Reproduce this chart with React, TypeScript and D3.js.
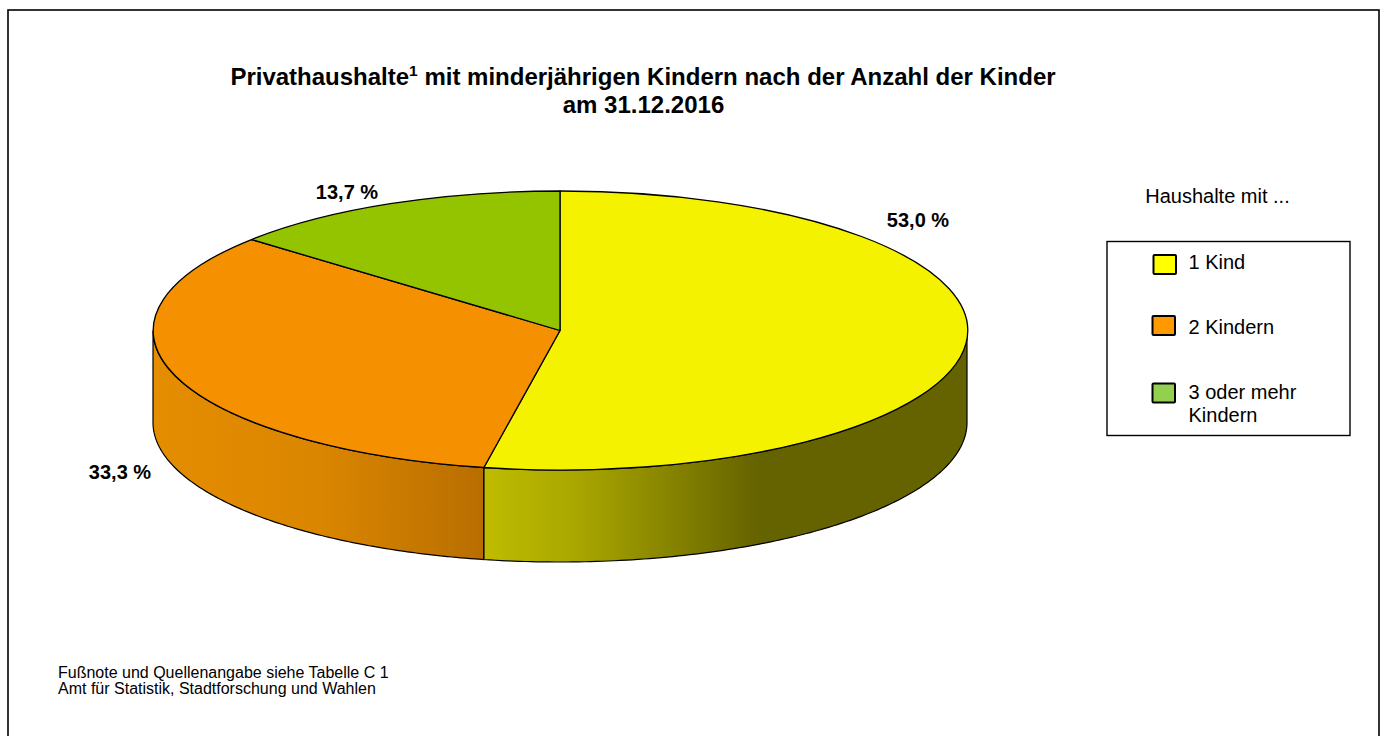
import React from "react";
import * as d3 from "d3";

const titleLine1 = "Privathaushalte";
const titleSup = "1";
const titleLine1b = " mit minderjährigen Kindern nach der Anzahl der Kinder";
const titleLine2 = "am 31.12.2016";
const categories = ["1 Kind", "2 Kindern", "3 oder mehr Kindern"];
const values = [53.0, 33.3, 13.7];
const valueLabels = ["53,0 %", "33,3 %", "13,7 %"];
const topColors = ["#f5f200", "#f59100", "#94c400"];
const legendColors = ["#ffff00", "#ff9900", "#92d050"];
const legendTitle = "Haushalte mit ...";
const footnotes = ["Fußnote und Quellenangabe siehe Tabelle C 1", "Amt für Statistik, Stadtforschung und Wahlen"];

const CX = 560, CY = 330.5, RX = 407, RY = 139.5, DEPTH = 92;
const FONT = "'Liberation Sans', Arial, sans-serif";

const pie = d3.pie<number>().sort(null).startAngle(0).endAngle(2 * Math.PI);
const arcs = pie(values);
const topArc = d3.arc<d3.PieArcDatum<number>>().innerRadius(0).outerRadius(1);

const px = (a: number) => CX + RX * Math.sin(a);
const py = (a: number) => CY - RY * Math.cos(a);

function sidePath(a0: number, a1: number) {
  const n = 120;
  const angles = d3.range(n + 1).map((i) => a0 + ((a1 - a0) * i) / n);
  const line = d3.line<[number, number]>();
  const pts: [number, number][] = [
    ...angles.map((a) => [px(a), py(a)] as [number, number]),
    ...angles.slice().reverse().map((a) => [px(a), py(a) + DEPTH] as [number, number]),
  ];
  return line(pts) + "Z";
}

// visible front wall: from the right extreme (π/2) to the left extreme (3π/2)
const sideRanges: [number, number][] = [
  [Math.PI / 2, arcs[0].endAngle],
  [arcs[1].startAngle, (3 * Math.PI) / 2],
];

const labelPos: [number, number][] = [
  [918, 227],
  [120, 479],
  [347, 199],
];

const legendRows = [
  { box: [1153.5, 255], lines: ["1 Kind"], y: [268.5] },
  { box: [1152.5, 316], lines: ["2 Kindern"], y: [334] },
  { box: [1152.5, 383.5], lines: ["3 oder mehr", "Kindern"], y: [399, 422] },
];

export default function App() {
  return (
    <svg
      width={1383}
      height={736}
      viewBox="0 0 1383 736"
      style={{ position: "absolute", left: 0, top: 0, background: "#fff" }}
      fontFamily={FONT}
    >
      <defs>
        <linearGradient id="sideYellow" gradientUnits="userSpaceOnUse" x1={484} x2={967} y1={0} y2={0}>
          <stop offset="0" stopColor="#bfbc00" />
          <stop offset="0.2" stopColor="#a8a500" />
          <stop offset="0.57" stopColor="#656200" />
          <stop offset="1" stopColor="#656200" />
        </linearGradient>
        <linearGradient id="sideOrange" gradientUnits="userSpaceOnUse" x1={153} x2={484} y1={0} y2={0}>
          <stop offset="0" stopColor="#e58d00" />
          <stop offset="0.5" stopColor="#db8600" />
          <stop offset="1" stopColor="#b86e00" />
        </linearGradient>
      </defs>

      <rect x={8} y={10} width={1371} height={730} fill="#fff" stroke="#000" strokeWidth={1.6} />

      <text x={643} y={85} textAnchor="middle" fontSize={24} fontWeight={700}>
        {titleLine1}
        <tspan fontSize={15.5} dy={-9}>{titleSup}</tspan>
        <tspan dy={9}>{titleLine1b}</tspan>
      </text>
      <text x={643.5} y={113} textAnchor="middle" fontSize={24} fontWeight={700}>{titleLine2}</text>

      <path d={sidePath(sideRanges[0][0], sideRanges[0][1])} fill="url(#sideYellow)" stroke="#000" strokeWidth={1.2} />
      <path d={sidePath(sideRanges[1][0], sideRanges[1][1])} fill="url(#sideOrange)" stroke="#000" strokeWidth={1.2} />

      <g transform={`translate(${CX},${CY}) scale(${RX},${RY})`}>
        {arcs.map((a, i) => (
          <path
            key={i}
            d={topArc(a) as string}
            fill={topColors[i]}
            stroke="#000"
            strokeWidth={1.3}
            strokeLinejoin="round"
            style={{ vectorEffect: "non-scaling-stroke" }}
          />
        ))}
      </g>

      {valueLabels.map((t, i) => (
        <text key={t} x={labelPos[i][0]} y={labelPos[i][1]} textAnchor="middle" fontSize={20} fontWeight={700}>{t}</text>
      ))}

      <text x={1217.5} y={203} textAnchor="middle" fontSize={20}>{legendTitle}</text>
      <rect x={1107} y={241.5} width={243} height={194} fill="#fff" stroke="#000" strokeWidth={1.4} />
      {legendRows.map((r, i) => (
        <g key={categories[i]}>
          <rect x={r.box[0]} y={r.box[1]} width={22.5} height={19} fill={legendColors[i]} stroke="#000" strokeWidth={2} rx={1} />
          {r.lines.map((l, j) => (
            <text key={l} x={1188.5} y={r.y[j]} fontSize={20}>{l}</text>
          ))}
        </g>
      ))}

      {footnotes.map((t, i) => (
        <text key={t} x={58} y={678 + i * 16} fontSize={16}>{t}</text>
      ))}
    </svg>
  );
}
